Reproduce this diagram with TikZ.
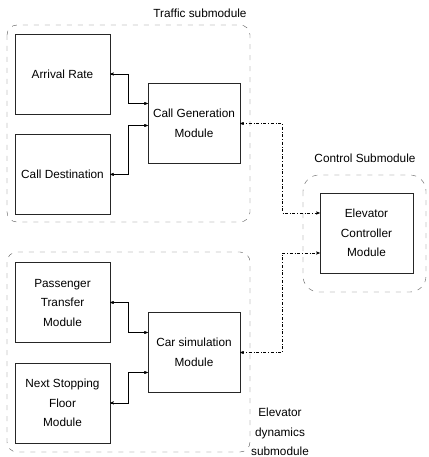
\documentclass[tikz,border=0pt]{standalone}
\usepackage{fontspec}
\setmainfont{Liberation Sans}
\usepackage{tikz}
\usetikzlibrary{arrows,arrows.meta,positioning}

\begin{document}
\begin{tikzpicture}[<->, >=stealth', x=1pt, y=-1pt, thin,
  font=\fontsize{11.8}{19.5}\selectfont]
\tikzstyle{every node}=[text=black]
\tikzstyle{mod}=[draw=black!85, minimum width=95pt, minimum height=80pt, align=center, inner sep=2pt]
\tikzstyle{sub}=[draw=black!65, dash pattern=on 5pt off 6pt, rounded corners=10pt, -]
\useasboundingbox (0,0) rectangle (428,457);

% submodule frames
\draw[sub] (7,25) rectangle (250,222);
\draw[sub] (7,252) rectangle (250,452);
\draw[sub, rounded corners=16pt] (303,175) rectangle (426,292);
\node (tl) at (200,13) {Traffic submodule};
\node (kl) at (365,158) {Control Submodule};
\node[align=center] (el) at (280,432) {Elevator\\dynamics\\submodule};

% traffic
\node[mod] (ar) at (62.5,74) {Arrival Rate};
\node[mod] (cd) [below=20pt of ar] {Call Destination};
\node[mod, minimum width=92pt] (cg) at (194,123.5) {Call Generation\\Module};

% elevator dynamics
\node[mod] (pt) at (62.5,302.5) {Passenger\\Transfer\\Module};
\node[mod] (ns) [below=20pt of pt] {Next Stopping\\Floor\\Module};
\node[mod, minimum width=92pt] (cs) at (194,352.5) {Car simulation\\Module};

% control
\node[mod, minimum width=93pt] (ec) at (366.5,233) {Elevator\\Controller\\Module};

\draw (ar.east) -- ++(18pt,0) |- ([yshift=20pt]cg.west);
\draw (cd.east) -- ++(18pt,0) |- ([yshift=-2pt]cg.west);
\draw (pt.east) -- ++(18pt,0) |- ([yshift=20pt]cs.west);
\draw (ns.east) -- ++(18pt,0) |- ([yshift=-20pt]cs.west);
\draw[dash dot] (cg.east) -- ++(42pt,0) |- ([yshift=20pt]ec.west);
\draw[dash dot] (cs.east) -- ++(42pt,0) |- ([yshift=-20pt]ec.west);
\end{tikzpicture}
\end{document}
